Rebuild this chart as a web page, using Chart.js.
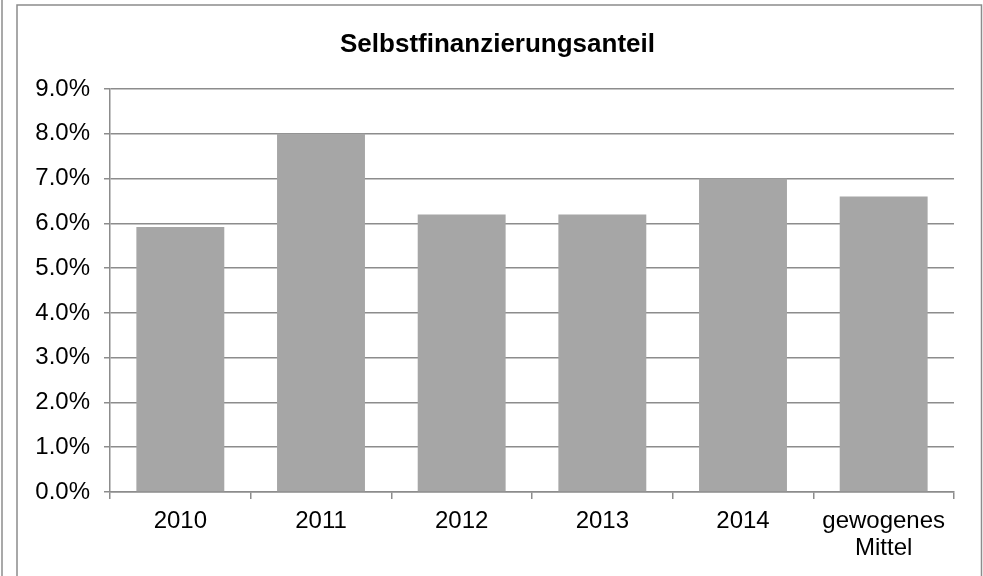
<!DOCTYPE html>
<html>
<head>
<meta charset="utf-8">
<script src="https://cdn.jsdelivr.net/npm/chart.js@4/dist/chart.umd.min.js"></script>
<style>
  html, body { margin: 0; padding: 0; background: #fff; }
  #wrap { position: relative; width: 983px; height: 576px; }
</style>
</head>
<body>
<div id="wrap"><canvas id="c" width="983" height="576"></canvas></div>
<script>
const categories = ['2010', '2011', '2012', '2013', '2014', ['gewogenes', 'Mittel']];
const shareValues = [0.0592, 0.080, 0.062, 0.062, 0.070, 0.066];
const yTickMin = 0;
const yTickMax = 0.09;
const yTickStep = 0.01;
const chartTitle = 'Selbstfinanzierungsanteil';

const framePlugin = {
  id: 'frame',
  beforeDraw(chart) {
    const ctx = chart.ctx;
    ctx.save();
    ctx.fillStyle = '#ffffff';
    ctx.fillRect(0, 0, chart.width, chart.height);
    ctx.strokeStyle = '#8c8c8c';
    ctx.lineWidth = 1.5;
    ctx.beginPath();
    ctx.moveTo(2, 0); ctx.lineTo(2, chart.height);
    ctx.stroke();
    ctx.beginPath();
    ctx.moveTo(17, chart.height + 2);
    ctx.lineTo(17, 5);
    ctx.lineTo(981.5, 5);
    ctx.lineTo(981.5, chart.height + 2);
    ctx.stroke();
    ctx.restore();
  },
  afterDraw(chart) {
    const ctx = chart.ctx;
    ctx.save();
    ctx.fillStyle = '#000';
    ctx.font = 'bold 26px "Liberation Sans", Arial, sans-serif';
    ctx.textAlign = 'center';
    ctx.textBaseline = 'alphabetic';
    ctx.fillText(chartTitle, 497.5, 51.5);
    ctx.restore();
  }
};

new Chart(document.getElementById('c'), {
  type: 'bar',
  data: {
    labels: categories,
    datasets: [{
      data: shareValues,
      backgroundColor: '#a6a6a6',
      borderWidth: 0,
      categoryPercentage: 1.0,
      barPercentage: 0.625
    }]
  },
  options: {
    responsive: false,
    animation: false,
    devicePixelRatio: 1,
    layout: { padding: { top: 89, left: 0, right: 29, bottom: 0 } },
    plugins: {
      legend: { display: false },
      tooltip: { enabled: false },
      title: { display: false }
    },
    scales: {
      x: {
        grid: {
          offset: true,
          drawOnChartArea: false,
          drawTicks: true,
          tickLength: 7,
          color: '#8c8c8c',
          lineWidth: 1.5
        },
        border: { display: true, color: '#8c8c8c', width: 1.5 },
        ticks: {
          color: '#000',
          padding: 9,
          maxRotation: 0,
          autoSkip: false,
          font: { family: 'Liberation Sans, Arial, sans-serif', size: 24, lineHeight: 1.12 }
        },
        afterFit(scale) { scale.height = 84; }
      },
      y: {
        min: yTickMin,
        max: yTickMax,
        grid: {
          color: '#8c8c8c',
          lineWidth: 1.5,
          drawTicks: true,
          tickLength: 6
        },
        border: { display: true, color: '#8c8c8c', width: 1.5 },
        ticks: {
          stepSize: yTickStep,
          color: '#000',
          padding: 14,
          font: { family: 'Liberation Sans, Arial, sans-serif', size: 24 },
          callback: (v) => (v * 100).toFixed(1) + '%'
        },
        afterFit(scale) { scale.width = 110; }
      }
    }
  },
  plugins: [framePlugin]
});
</script>
</body>
</html>
